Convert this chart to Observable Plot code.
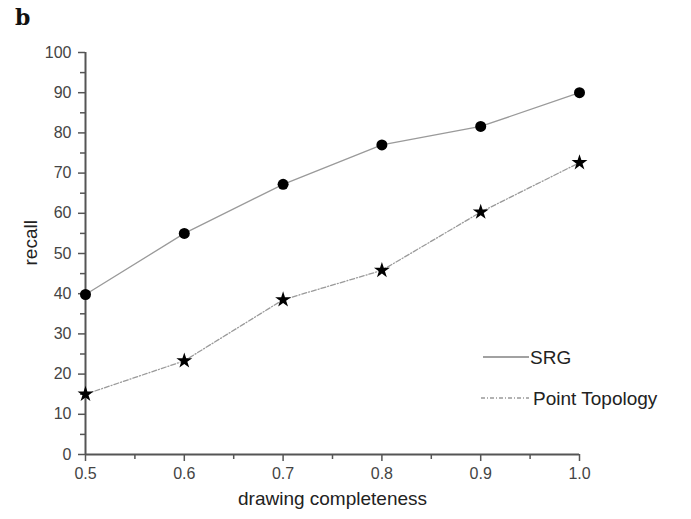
<!DOCTYPE html>
<html><head><meta charset="utf-8">
<script src="https://cdn.jsdelivr.net/npm/d3@7"></script>
<script src="https://cdn.jsdelivr.net/npm/@observablehq/plot@0.6"></script>
<style>
body{margin:0;background:#fff;}
#wrap{position:relative;width:691px;height:519px;font-family:"Liberation Sans",Arial,sans-serif;}
#panel{position:absolute;left:15px;top:6px;line-height:22px;font-family:"DejaVu Serif",serif;font-weight:bold;font-size:22px;color:#111;}
#legend{position:absolute;left:470px;top:340px;}
</style></head>
<body><div id="wrap"><div id="panel">b</div><div id="chart"></div>
<svg id="legend" width="221" height="75"></svg></div>
<script>
const completeness = [0.5, 0.6, 0.7, 0.8, 0.9, 1.0];
const srg = [39.8, 55.0, 67.2, 77.0, 81.6, 90.0];
const pointTopology = [15.0, 23.3, 38.5, 45.8, 60.3, 72.6];
const xTicks = [0.5, 0.6, 0.7, 0.8, 0.9, 1.0];
const xMinor = [0.55, 0.65, 0.75, 0.85, 0.95];
const yTicks = [0,10,20,30,40,50,60,70,80,90,100];
const yMinor = [5,15,25,35,45,55,65,75,85,95];
const seriesNames = ["SRG", "Point Topology"];

const srgData = completeness.map((x,i)=>({x, y: srg[i]}));
const ptData = completeness.map((x,i)=>({x, y: pointTopology[i]}));
const axisColor = "#555";
const lineColor = "#9a9a9a";

const chart = Plot.plot({
  width: 691, height: 519,
  marginLeft: 85, marginRight: 112, marginTop: 52, marginBottom: 65,
  style: {fontFamily: "'Liberation Sans', Arial, sans-serif", background: "#fff"},
  x: {domain: [0.5, 1.0]},
  y: {domain: [0, 100]},
  marks: [
    Plot.axisX({ticks: xTicks, tickFormat: d3.format(".1f"), tickSize: 7, tickPadding: 6, stroke: axisColor, strokeWidth: 1.5, fill: "#444", fontSize: 16, label: null}),
    Plot.axisX({ticks: xMinor, tickSize: 5, tickFormat: ()=>"", stroke: axisColor, strokeWidth: 1.5, label: null}),
    Plot.axisY({ticks: yTicks, tickSize: 7, tickPadding: 7, stroke: axisColor, strokeWidth: 1.5, fill: "#444", fontSize: 16, label: null}),
    Plot.axisY({ticks: yMinor, tickSize: 5, tickFormat: ()=>"", stroke: axisColor, strokeWidth: 1.5, label: null}),
    Plot.ruleX([0.5], {stroke: axisColor, strokeWidth: 2}),
    Plot.ruleY([0], {stroke: axisColor, strokeWidth: 2}),
    Plot.text(["drawing completeness"], {frameAnchor: "bottom", dy: 50, fontSize: 19, fill: "#222"}),
    Plot.text(["recall"], {frameAnchor: "left", dx: -55, dy: 12, rotate: -90, fontSize: 19, fill: "#222"}),
    Plot.line(srgData, {x: "x", y: "y", stroke: lineColor, strokeWidth: 1.3}),
    Plot.line(ptData, {x: "x", y: "y", stroke: lineColor, strokeWidth: 1.3, strokeDasharray: "5,2,1,2"}),
    Plot.dot(srgData, {x: "x", y: "y", r: 5.5, fill: "#000", symbol: "circle"}),
    Plot.dot(ptData, {x: "x", y: "y", r: 5, fill: "#000", symbol: "star"})
  ]
});
document.getElementById("chart").appendChild(chart);

const lg = d3.select("#legend");
const dashes = [null, "4,2,1,2"];
seriesNames.forEach((name,i)=>{
  const y = 17 + i*41;
  lg.append("line").attr("x1", i===0 ? 13 : 11).attr("x2", 59).attr("y1", y).attr("y2", y)
    .attr("stroke", i===0 ? "#444" : "#666").attr("stroke-width", 1.2)
    .attr("stroke-dasharray", dashes[i]);
  lg.append("text").attr("x", i===0 ? 60 : 63).attr("y", y+7).text(name)
    .attr("font-family", "'Liberation Sans', Arial, sans-serif").attr("font-size", 19).attr("fill", "#222");
});
</script></body></html>
